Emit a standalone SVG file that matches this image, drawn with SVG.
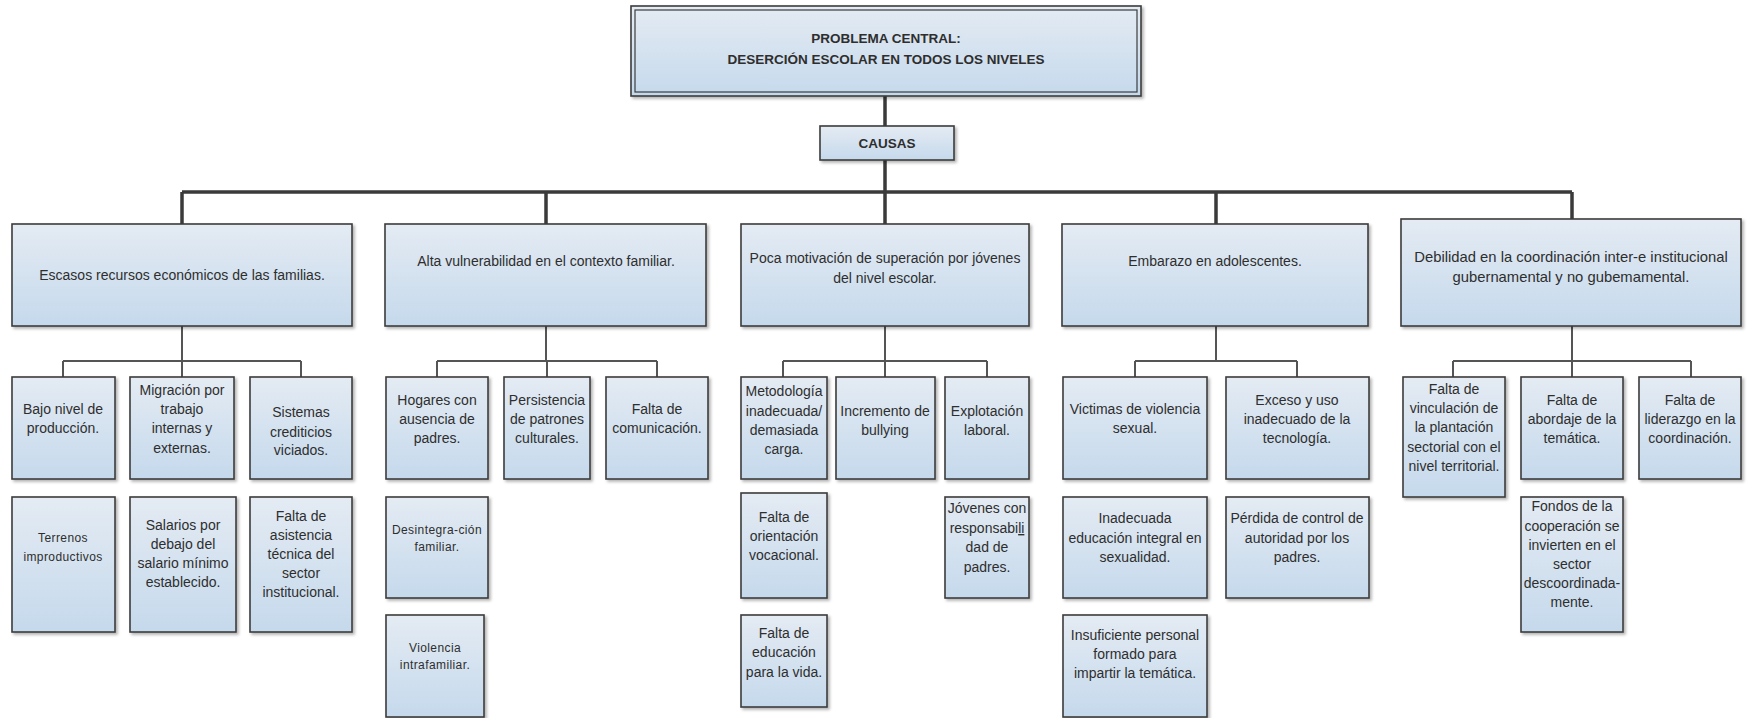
<svg xmlns="http://www.w3.org/2000/svg" width="1750" height="718" viewBox="0 0 1750 718">
<defs>
<linearGradient id="bg" x1="0" y1="0" x2="0" y2="1">
<stop offset="0" stop-color="#e4ebf3"/>
<stop offset="1" stop-color="#c5d9ec"/>
</linearGradient>
<filter id="sh" x="-10%" y="-10%" width="130%" height="130%">
<feDropShadow dx="2" dy="2" stdDeviation="1.5" flood-color="#000" flood-opacity="0.3"/>
</filter>
</defs>
<style>
.b{fill:url(#bg);stroke:#3c3c3c;stroke-width:1.6;filter:url(#sh)}
.bi{fill:none;stroke:#3c3c3c;stroke-width:1.2}
text{font-family:"Liberation Sans",Arial,sans-serif;font-size:14px;fill:#2e2e2e;text-anchor:middle}
.s{font-size:12px;letter-spacing:0.4px}
.t{font-weight:bold;font-size:13.5px}
.w{font-size:14.8px}
.c1{fill:none;stroke:#3a3a3a;stroke-width:3.5}
.c2{fill:none;stroke:#555;stroke-width:2}
</style>
<rect width="1750" height="718" fill="#fff"/>
<g id="connectors">
<path class="c1" d="M885 96V126M885 160V192M182 192H1572M182 192V224M546 192V224M885 192V224M1216 192V224M1572 192V219"/>
<path class="c2" d="M182 326V361M63 361H301M63 361V377M182 361V377M301 361V377"/>
<path class="c2" d="M546 326V361M437 361H657M437 361V377M547 361V377M657 361V377"/>
<path class="c2" d="M885 326V361M783 361H987M783 361V377M885 361V377M987 361V377"/>
<path class="c2" d="M1216 326V361M1135 361H1297M1135 361V377M1297 361V377"/>
<path class="c2" d="M1572 326V361M1453 361H1691M1453 361V377M1572 361V377M1691 361V377"/>
</g>
<g id="problema">
<rect class="b" x="631" y="6" width="510" height="90" stroke-width="2.2"/>
<rect class="bi" x="635" y="10" width="502" height="82"/>
<text class="t" x="886" y="43">PROBLEMA CENTRAL:</text>
<text class="t" x="886" y="64">DESERCIÓN ESCOLAR EN TODOS LOS NIVELES</text>
</g>
<g id="causas">
<rect class="b" x="820" y="126" width="134" height="34" stroke-width="2.2"/>
<text class="t" x="887" y="148">CAUSAS</text>
</g>
<g id="n1">
<rect class="b" x="12" y="224" width="340" height="102"/>
<text x="182" y="280">Escasos recursos económicos de las familias.</text>
</g>
<g id="n2">
<rect class="b" x="385" y="224" width="321" height="102"/>
<text x="546" y="266">Alta vulnerabilidad en el contexto familiar.</text>
</g>
<g id="n3">
<rect class="b" x="741" y="224" width="288" height="102"/>
<text x="885" y="263">Poca motivación de superación por jóvenes</text>
<text x="885" y="283">del nivel escolar.</text>
</g>
<g id="n4">
<rect class="b" x="1062" y="224" width="306" height="102"/>
<text x="1215" y="266">Embarazo en adolescentes.</text>
</g>
<g id="n5">
<rect class="b" x="1401" y="219" width="340" height="107"/>
<text class="w" x="1571" y="262">Debilidad en la coordinación inter-e institucional</text>
<text class="w" x="1571" y="282">gubernamental y no gubemamental.</text>
</g>
<g id="n1a">
<rect class="b" x="12" y="377" width="103" height="102"/>
<text x="63" y="414">Bajo nivel de</text>
<text x="63" y="433">producción.</text>
</g>
<g id="n1b">
<rect class="b" x="130" y="377" width="104" height="102"/>
<text x="182" y="395">Migración por</text>
<text x="182" y="414">trabajo</text>
<text x="182" y="433">internas y</text>
<text x="182" y="453">externas.</text>
</g>
<g id="n1c">
<rect class="b" x="250" y="377" width="102" height="102"/>
<text x="301" y="417">Sistemas</text>
<text x="301" y="437">crediticios</text>
<text x="301" y="455">viciados.</text>
</g>
<g id="n1a2">
<rect class="b" x="12" y="497" width="103" height="135"/>
<text class="s" x="63" y="542">Terrenos</text>
<text class="s" x="63" y="561">improductivos</text>
</g>
<g id="n1b2">
<rect class="b" x="130" y="497" width="106" height="135"/>
<text x="183" y="530">Salarios por</text>
<text x="183" y="549">debajo del</text>
<text x="183" y="568">salario mínimo</text>
<text x="183" y="587">establecido.</text>
</g>
<g id="n1c2">
<rect class="b" x="250" y="497" width="102" height="135"/>
<text x="301" y="521">Falta de</text>
<text x="301" y="540">asistencia</text>
<text x="301" y="559">técnica del</text>
<text x="301" y="578">sector</text>
<text x="301" y="597">institucional.</text>
</g>
<g id="n2a">
<rect class="b" x="386" y="377" width="102" height="102"/>
<text x="437" y="405">Hogares con</text>
<text x="437" y="424">ausencia de</text>
<text x="437" y="443">padres.</text>
</g>
<g id="n2b">
<rect class="b" x="504" y="377" width="86" height="102"/>
<text x="547" y="405">Persistencia</text>
<text x="547" y="424">de patrones</text>
<text x="547" y="443">culturales.</text>
</g>
<g id="n2c">
<rect class="b" x="606" y="377" width="102" height="102"/>
<text x="657" y="414">Falta de</text>
<text x="657" y="433">comunicación.</text>
</g>
<g id="n2a2">
<rect class="b" x="386" y="497" width="102" height="101"/>
<text class="s" x="437" y="534">Desintegra-ción</text>
<text class="s" x="437" y="551">familiar.</text>
</g>
<g id="n2a3">
<rect class="b" x="386" y="615" width="98" height="102"/>
<text class="s" x="435" y="652">Violencia</text>
<text class="s" x="435" y="669">intrafamiliar.</text>
</g>
<g id="n3a">
<rect class="b" x="741" y="377" width="86" height="102"/>
<text x="784" y="396">Metodología</text>
<text x="784" y="416">inadecuada/</text>
<text x="784" y="435">demasiada</text>
<text x="784" y="454">carga.</text>
</g>
<g id="n3b">
<rect class="b" x="836" y="377" width="99" height="102"/>
<text x="885" y="416">Incremento de</text>
<text x="885" y="435">bullying</text>
</g>
<g id="n3c">
<rect class="b" x="945" y="377" width="84" height="102"/>
<text x="987" y="416">Explotación</text>
<text x="987" y="435">laboral.</text>
</g>
<g id="n3a2">
<rect class="b" x="741" y="493" width="86" height="105"/>
<text x="784" y="522">Falta de</text>
<text x="784" y="541">orientación</text>
<text x="784" y="560">vocacional.</text>
</g>
<g id="n3a3">
<rect class="b" x="741" y="615" width="86" height="92"/>
<text x="784" y="638">Falta de</text>
<text x="784" y="657">educación</text>
<text x="784" y="677">para la vida.</text>
</g>
<g id="n3c2">
<rect class="b" x="945" y="497" width="84" height="101"/>
<text x="987" y="513">Jóvenes con</text>
<text x="987" y="533">responsabi<tspan text-decoration="underline">li</tspan></text>
<text x="987" y="552">dad de</text>
<text x="987" y="572">padres.</text>
</g>
<g id="n4a">
<rect class="b" x="1063" y="377" width="144" height="102"/>
<text x="1135" y="414">Victimas de violencia</text>
<text x="1135" y="433">sexual.</text>
</g>
<g id="n4b">
<rect class="b" x="1226" y="377" width="143" height="102"/>
<text x="1297" y="405">Exceso y uso</text>
<text x="1297" y="424">inadecuado de la</text>
<text x="1297" y="443">tecnología.</text>
</g>
<g id="n4a2">
<rect class="b" x="1063" y="497" width="144" height="101"/>
<text x="1135" y="523">Inadecuada</text>
<text x="1135" y="543">educación integral en</text>
<text x="1135" y="562">sexualidad.</text>
</g>
<g id="n4b2">
<rect class="b" x="1226" y="497" width="143" height="101"/>
<text x="1297" y="523">Pérdida de control de</text>
<text x="1297" y="543">autoridad por los</text>
<text x="1297" y="562">padres.</text>
</g>
<g id="n4a3">
<rect class="b" x="1063" y="615" width="144" height="102"/>
<text x="1135" y="640">Insuficiente personal</text>
<text x="1135" y="659">formado para</text>
<text x="1135" y="678">impartir la temática.</text>
</g>
<g id="n5a">
<rect class="b" x="1403" y="377" width="102" height="120"/>
<text x="1454" y="394">Falta de</text>
<text x="1454" y="413">vinculación de</text>
<text x="1454" y="432">la plantación</text>
<text x="1454" y="452">sectorial con el</text>
<text x="1454" y="471">nivel territorial.</text>
</g>
<g id="n5b">
<rect class="b" x="1521" y="377" width="102" height="102"/>
<text x="1572" y="405">Falta de</text>
<text x="1572" y="424">abordaje de la</text>
<text x="1572" y="443">temática.</text>
</g>
<g id="n5c">
<rect class="b" x="1639" y="377" width="102" height="102"/>
<text x="1690" y="405">Falta de</text>
<text x="1690" y="424">liderazgo en la</text>
<text x="1690" y="443">coordinación.</text>
</g>
<g id="n5b2">
<rect class="b" x="1521" y="497" width="102" height="135"/>
<text x="1572" y="511">Fondos de la</text>
<text x="1572" y="531">cooperación se</text>
<text x="1572" y="550">invierten en el</text>
<text x="1572" y="569">sector</text>
<text x="1572" y="588">descoordinada-</text>
<text x="1572" y="607">mente.</text>
</g>
</svg>
